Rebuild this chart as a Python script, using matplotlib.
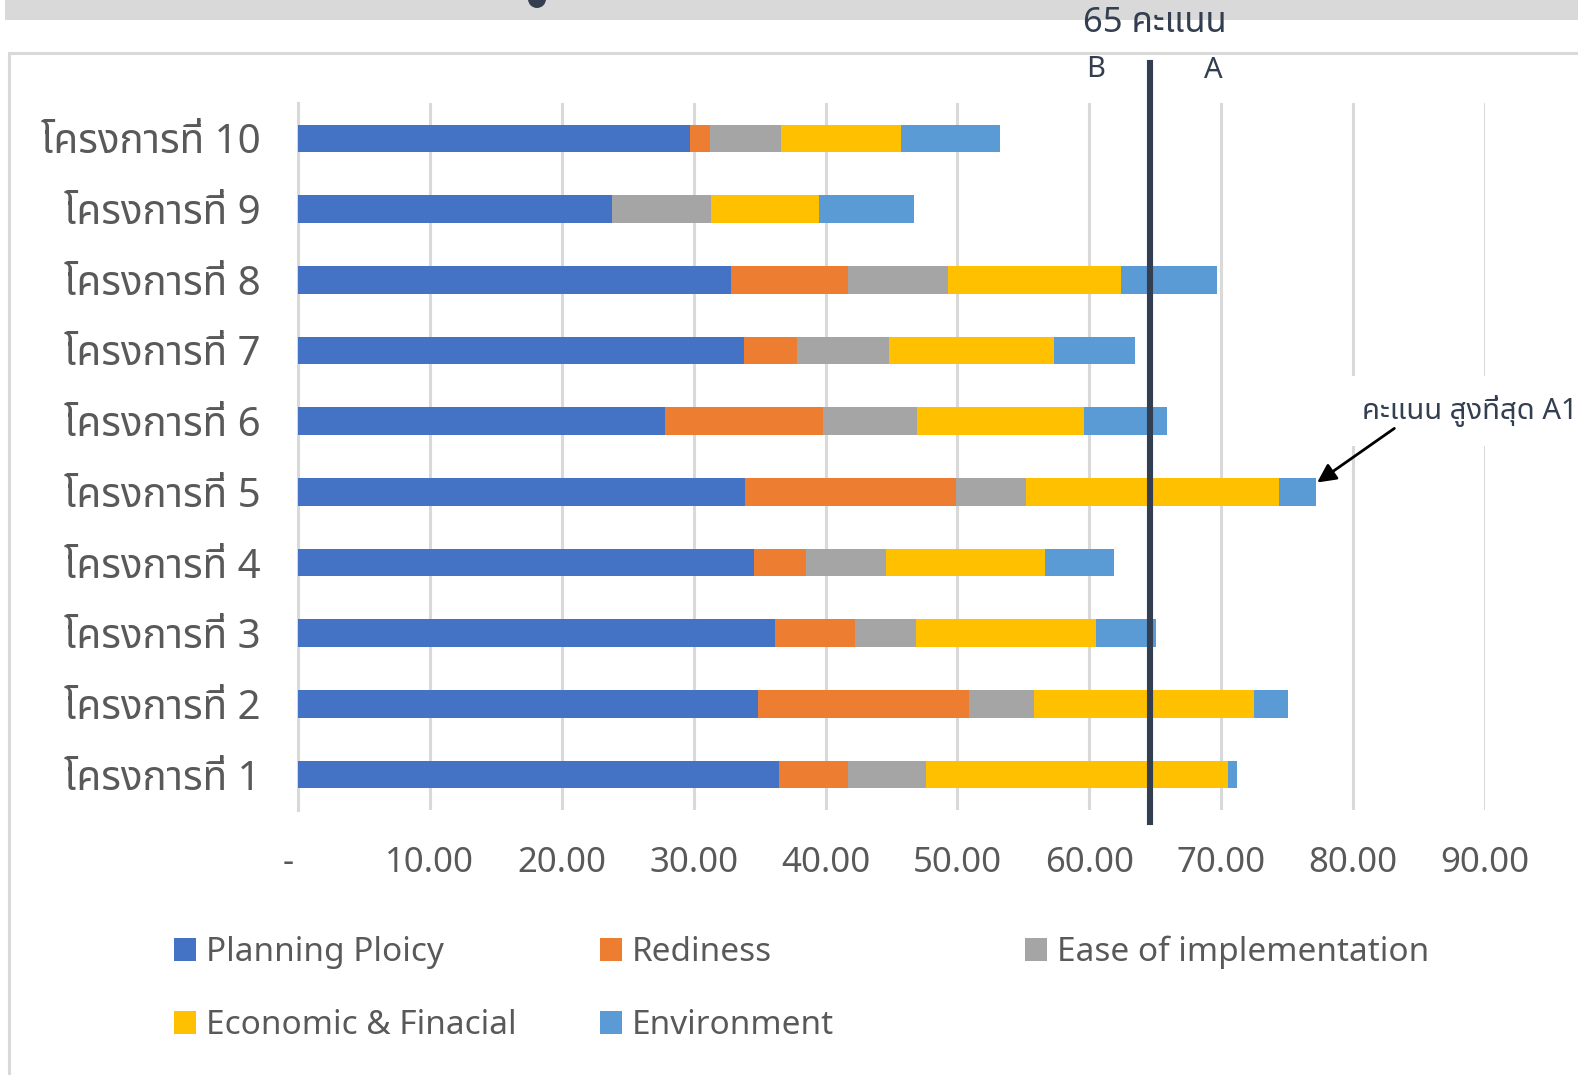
import matplotlib

matplotlib.use("Agg")
import matplotlib.pyplot as plt
from matplotlib.patches import Ellipse, Patch, Rectangle

plt.rcParams["font.family"] = ["Noto Sans Thai", "IBM Plex Sans Thai", "DejaVu Sans"]

# ข้อมูล (อ่านจากภาพ) - โครงการที่ 1 ถึง 10
projects = [f"โครงการที่ {i}" for i in range(1, 11)]
planning = [36.5, 34.9, 36.2, 34.55, 33.9, 27.8, 33.8, 32.8, 23.8, 29.75]
rediness = [5.2, 16.0, 6.0, 3.95, 16.0, 12.0, 4.0, 8.9, 0.0, 1.5]
ease = [5.95, 4.9, 4.65, 6.1, 5.3, 7.1, 7.0, 7.55, 7.55, 5.35]
economic = [22.9, 16.7, 13.65, 12.05, 19.2, 12.7, 12.5, 13.15, 8.15, 9.15]
environment = [0.65, 2.6, 4.55, 5.2, 2.8, 6.3, 6.15, 7.3, 7.2, 7.45]
series_names = ["Planning Ploicy", "Rediness", "Ease of implementation",
                "Economic & Finacial", "Environment"]
series_colors = ["#4472C4", "#ED7D31", "#A5A5A5", "#FFC000", "#5B9BD5"]
x_ticks = [0, 10, 20, 30, 40, 50, 60, 70, 80, 90]
x_ticklabels = ["-  ", "10.00", "20.00", "30.00", "40.00", "50.00",
                "60.00", "70.00", "80.00", "90.00"]
threshold = 64.6

W, H = 1578, 1075
fig = plt.figure(figsize=(W / 100, H / 100), dpi=100)
fig.patch.set_facecolor("white")

# แถบเทาด้านบนและกรอบของแผนภูมิ (ภาพหน้าจอจาก Excel)
fig.add_artist(Rectangle((5 / W, 1 - 20 / H), 1, 20 / H, transform=fig.transFigure,
                         facecolor="#D9D9D9", edgecolor="none", zorder=-2))
fig.add_artist(Ellipse((537 / W, 1 + 1 / H), 18 / W, 18 / H, transform=fig.transFigure,
                       facecolor="#333F50", edgecolor="none", zorder=-1))
fig.add_artist(Rectangle((9 / W, -0.1), 1.2, 1.1 - 53 / H, transform=fig.transFigure,
                         facecolor="none", edgecolor="#D9D9D9", linewidth=2.2, zorder=-1))

ax = fig.add_axes([298 / W, 1 - 810 / H, (1485 - 298) / W, (810 - 103) / H])
ax.patch.set_alpha(0)

y = list(range(len(projects)))
left = [0.0] * len(projects)
handles = []
for name, vals, color in zip(series_names,
                             [planning, rediness, ease, economic, environment],
                             series_colors):
    ax.barh(y, vals, left=left, height=0.39, color=color, linewidth=0, zorder=3)
    left = [a + b for a, b in zip(left, vals)]
    handles.append(Patch(facecolor=color, edgecolor="none", label=name))

ax.set_xlim(0, 90)
ax.set_ylim(-0.5, len(projects) - 0.5)
ax.set_xticks(x_ticks)
ax.set_xticklabels(x_ticklabels)
ax.set_yticks(y)
ax.set_yticklabels(projects)
ax.tick_params(axis="x", length=0, pad=26, labelsize=25, labelcolor="#595959")
ax.tick_params(axis="y", length=0, pad=27, labelsize=29, labelcolor="#595959")
ax.grid(True, axis="x", color="#D9D9D9", linewidth=2.2, zorder=0)
ax.set_axisbelow(True)
for side in ["top", "right", "bottom"]:
    ax.spines[side].set_visible(False)
ax.spines["left"].set_color("#D9D9D9")
ax.spines["left"].set_linewidth(2.2)

# เส้นเกณฑ์ 65 คะแนน
dark = "#333F50"
trans = ax.get_xaxis_transform()
ax.plot([threshold, threshold], [-0.017, 1.057], transform=trans, color=dark,
        linewidth=4.4, clip_on=False, zorder=5)
ax.text(65, 1.113, "65 คะแนน", transform=trans, ha="center", va="center",
        fontsize=25, color=dark, fontweight="medium")
ax.text(60.45, 1.048, "B", transform=trans, ha="center", va="center", fontsize=21, color=dark)
ax.text(69.4, 1.046, "A", transform=trans, ha="center", va="center", fontsize=21, color=dark)

ax.text(80.65, 0.5647, "คะแนน สูงที่สุด A1", transform=trans, ha="left", va="center",
        fontsize=21, color=dark, fontweight="semibold", zorder=6,
        bbox=dict(boxstyle="square,pad=0.65", facecolor="white", edgecolor="none"))
ax.annotate("", xy=(77.1, 4.11), xytext=(83.3, 4.92),
            arrowprops=dict(arrowstyle="-|>", color="black", lw=2, mutation_scale=28),
            zorder=7, annotation_clip=False)

# คำอธิบายสัญลักษณ์ 3 คอลัมน์
columns = [[0, 3], [1, 4], [2]]
col_x = [174 / W, 600 / W, 1025 / W]
legends = []
for idx, cx in zip(columns, col_x):
    leg = ax.legend([handles[i] for i in idx], [series_names[i] for i in idx],
                    loc="upper left", bbox_to_anchor=(cx, 1 - 936 / H),
                    bbox_transform=fig.transFigure, frameon=False, fontsize=24,
                    handlelength=0.66, handleheight=0.66, handletextpad=0.3,
                    labelspacing=1.2, borderpad=0, borderaxespad=0)
    for t in leg.get_texts():
        t.set_color("#595959")
    legends.append(leg)
for leg in legends[:-1]:
    ax.add_artist(leg)

fig.savefig("out.png", dpi=100, facecolor="white")
